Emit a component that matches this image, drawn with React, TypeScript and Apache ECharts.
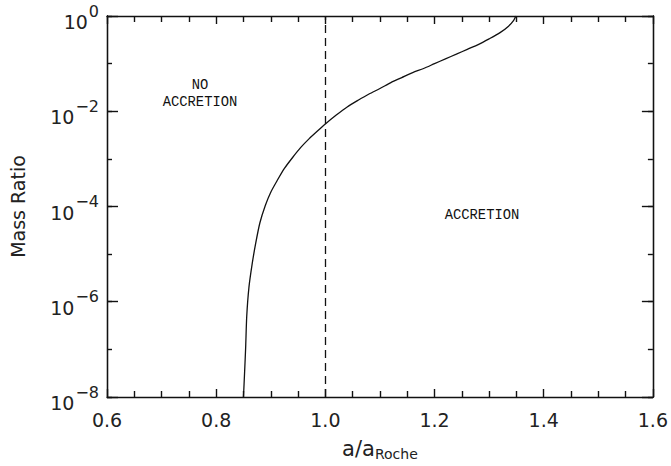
import React, { useEffect, useRef } from "react";
import * as echarts from "echarts";

// Semi-major axis in units of the Roche distance
const separation = [
  0.850, 0.852, 0.854, 0.856, 0.860, 0.866, 0.872, 0.880, 0.890, 0.900,
  0.912, 0.925, 0.940, 0.955, 0.970, 0.985, 1.000, 1.020, 1.040, 1.060,
  1.080, 1.100, 1.120, 1.140, 1.160, 1.180, 1.200, 1.220, 1.240, 1.260,
  1.280, 1.300, 1.320, 1.335, 1.345, 1.349,
];
// Critical mass ratio separating the two regimes
const massRatio = [
  1e-8, 3.2e-8, 1.1e-7, 5.0e-7, 2.0e-6, 6.3e-6, 1.6e-5, 4.5e-5, 1.05e-4, 2.0e-4,
  3.55e-4, 6.3e-4, 1.07e-3, 1.74e-3, 2.63e-3, 3.8e-3, 5.4e-3, 8.3e-3, 1.23e-2, 1.7e-2,
  2.3e-2, 3.0e-2, 4.0e-2, 5.1e-2, 6.5e-2, 7.9e-2, 0.100, 0.126, 0.158, 0.200,
  0.251, 0.331, 0.447, 0.603, 0.813, 1.0,
];
const rocheLimit = 1.0;
const regionLabels = ["NO\nACCRETION", "ACCRETION"];

const FONT = "DejaVu Sans";
const INK = "#111";
const TEXT = "#222";

const line = (width: number) => ({ color: INK, width });

// x axis on the bottom or top edge of the frame
function xAxisOf(position: "bottom" | "top", labelled: boolean) {
  return {
    type: "value",
    position,
    min: 0.6,
    max: 1.6,
    interval: 0.2,
    splitLine: { show: false },
    axisLine: { show: true, lineStyle: line(1.3) },
    axisTick: { show: true, inside: true, length: 8, lineStyle: line(1.4) },
    minorTick: { show: true, splitNumber: 4, length: 6, lineStyle: line(1.4) },
    axisLabel: labelled
      ? {
          margin: 13,
          fontFamily: FONT,
          fontSize: 19,
          color: TEXT,
          formatter: (v: number) => v.toFixed(1),
        }
      : { show: false },
  };
}

// log y axis; step 2 carries the long ticks, step 1 the short decade ticks
function yAxisOf(position: "left" | "right", step: number, tickLen: number, labelled: boolean) {
  return {
    type: "log",
    logBase: 10,
    position,
    min: 1e-8,
    max: 1,
    interval: step,
    splitLine: { show: false },
    axisLine: { show: true, lineStyle: line(1.3) },
    axisTick: { show: true, inside: true, length: tickLen, lineStyle: line(1.4) },
    axisLabel: labelled
      ? {
          margin: 8,
          formatter: (v: number) => {
            const e = Math.round(Math.log10(v));
            return `{b|10}{s|${e === 0 ? "0" : "\u2212" + -e}}`;
          },
          rich: {
            b: { fontFamily: FONT, fontSize: 19, color: TEXT, padding: [12, 0, 0, 0] },
            s: { fontFamily: FONT, fontSize: 16, color: TEXT, padding: [0, 0, 10, 1] },
          },
        }
      : { show: false },
  };
}

export default function App() {
  const ref = useRef<HTMLDivElement>(null);

  useEffect(() => {
    if (!ref.current) return;
    const chart = echarts.init(ref.current, undefined, { renderer: "svg" });

    chart.setOption({
      animation: false,
      backgroundColor: "#fff",
      grid: { left: 105, right: 16, top: 16, bottom: 66 },
      xAxis: [
        {
          ...xAxisOf("bottom", true),
          name: "{a|a/a}{r|Roche}",
          nameLocation: "middle",
          nameGap: 40,
          nameTextStyle: {
            rich: {
              a: { fontFamily: FONT, fontSize: 21, color: TEXT },
              r: { fontFamily: FONT, fontSize: 14, color: TEXT, padding: [10, 0, 0, 0] },
            },
          },
        },
        xAxisOf("top", false),
      ],
      yAxis: [
        {
          ...yAxisOf("left", 2, 11, true),
          name: "Mass Ratio",
          nameLocation: "middle",
          nameGap: 80,
          nameRotate: 90,
          nameTextStyle: { fontFamily: FONT, fontSize: 19, color: TEXT },
        },
        yAxisOf("left", 1, 5, false),
        yAxisOf("right", 2, 11, false),
        yAxisOf("right", 1, 5, false),
      ],
      graphic: [
        {
          type: "text",
          x: 200,
          y: 77,
          style: {
            text: regionLabels[0],
            fontFamily: "Liberation Mono",
            fontSize: 13.8,
            lineHeight: 17,
            align: "center",
            verticalAlign: "top",
            fill: INK,
          },
        },
        {
          type: "text",
          x: 482,
          y: 215,
          style: {
            text: regionLabels[1],
            fontFamily: "Liberation Mono",
            fontSize: 13.8,
            align: "center",
            verticalAlign: "middle",
            fill: INK,
          },
        },
      ],
      series: [
        {
          type: "line",
          xAxisIndex: 0,
          yAxisIndex: 0,
          data: separation.map((x, i) => [x, massRatio[i]]),
          showSymbol: false,
          smooth: 0.25,
          lineStyle: { color: INK, width: 1.3 },
          markLine: {
            silent: true,
            symbol: ["none", "none"],
            label: { show: false },
            lineStyle: { color: INK, width: 1.3, type: [8, 5] },
            data: [{ xAxis: rocheLimit }],
          },
        },
      ],
    });

    return () => chart.dispose();
  }, []);

  return <div ref={ref} style={{ width: 671, height: 466, position: "absolute", left: 0, top: 0 }} />;
}
